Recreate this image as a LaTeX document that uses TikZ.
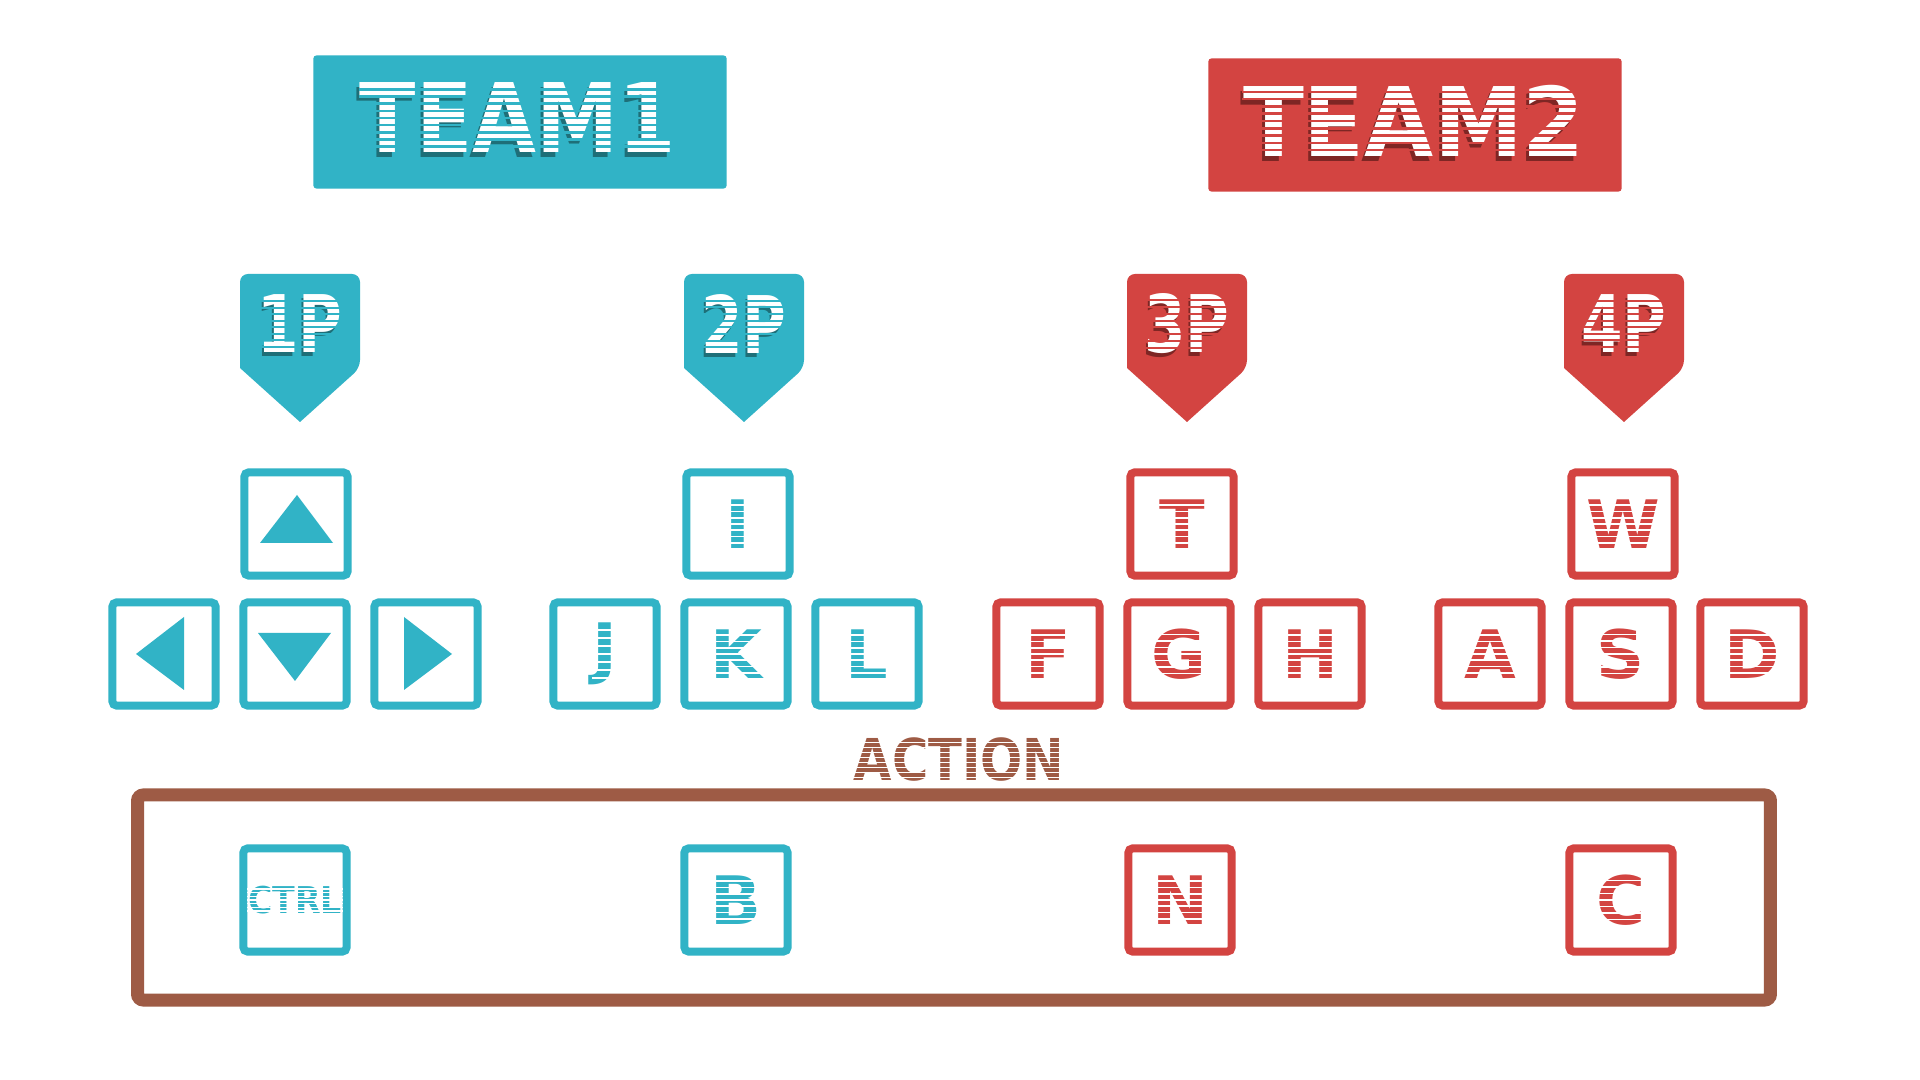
\documentclass[tikz,border=0pt]{standalone}
\usepackage{fontspec}
\usepackage{graphicx}
\setmainfont{DejaVu Sans}
\usetikzlibrary{calc}
\definecolor{blueteam}{HTML}{31B3C6}
\definecolor{blueshade}{HTML}{1E6F78}
\definecolor{redteam}{HTML}{D34441}
\definecolor{redshade}{HTML}{7E2624}
\definecolor{actionc}{HTML}{9E5B45}
\tikzset{
  key/.style={draw=#1,fill=white,line width=0.08cm,rounded corners=0.04cm,
    minimum size=1.03cm,inner sep=0pt},
  keyletter/.style={text=#1,inner sep=0pt,font=\bfseries\fontsize{19}{19}\selectfont},
  badgetext/.style={text=#1,inner sep=0pt,font=\bfseries\fontsize{22.6}{23}\selectfont},
  teamtext/.style={text=#1,inner sep=0pt,font=\bfseries\fontsize{27.3}{28}\selectfont},
  teambox/.style={fill=#1,rounded corners=0.03cm,minimum width=4.13cm,
    minimum height=1.33cm,inner sep=0pt}
}
% bars in the background colour across a text node
\newcommand{\stripes}[4]{%
  \foreach \k in {1,...,#3}
    \draw[#2,line width=#4]
      ($(#1.south west)!{\k/(#3+1)}!(#1.north west)$) --
      ($(#1.south east)!{\k/(#3+1)}!(#1.north east)$);
}
% name, x, y, colour, letter
\newcommand{\keycap}[5]{%
  \node[key=#4] (#1) at (#2,#3) {};
  \node[keyletter=#4] (#1l) at (#1.center) {#5};
  \stripes{#1l}{white}{7}{0.016cm}
}
% name, x, colour, shade, text
\newcommand{\badge}[5]{%
  \fill[#3] (#2,422) -- (#2-60,368) [rounded corners=0.08cm] -- (#2-60,274)
    -- (#2+60,274) -- (#2+60,368) [sharp corners] -- cycle;
  \node[badgetext=#4] (#1s) at (#2-2,328) {\scalebox{0.75}[1]{#5}};
  \node[badgetext=white] (#1) at (#2,324) {\scalebox{0.75}[1]{#5}};
  \stripes{#1}{#3}{8}{0.02cm}
}

\begin{document}
\begin{tikzpicture}[x=0.01cm,y=-0.01cm]
  \fill[white] (0,0) rectangle (1920,1080);
  \useasboundingbox (0,0) rectangle (1920,1080);

  % teams
  \node[teambox=blueteam] (team1) at (520,122) {};
  \node[teamtext=blueshade] (team1s) at (515,123) {\scalebox{0.86}[1]{TEAM1}};
  \node[teamtext=white] (team1t) at (518,118) {\scalebox{0.86}[1]{TEAM1}};
  \stripes{team1t}{blueteam}{9}{0.025cm}
  \node[teambox=redteam] (team2) at (1415,125) {};
  \node[teamtext=redshade] (team2s) at (1411,126) {\scalebox{0.93}[1]{TEAM2}};
  \node[teamtext=white] (team2t) at (1414,121) {\scalebox{0.93}[1]{TEAM2}};
  \stripes{team2t}{redteam}{9}{0.025cm}

  % players
  \badge{p1}{300}{blueteam}{blueshade}{1P}
  \badge{p2}{744}{blueteam}{blueshade}{2P}
  \badge{p3}{1187}{redteam}{redshade}{3P}
  \badge{p4}{1624}{redteam}{redshade}{4P}

  % 1P arrows
  \node[key=blueteam] (kup) at (296,524) {};
  \node[key=blueteam] (kleft) at (164,654) {};
  \node[key=blueteam] (kdown) at (295,654) {};
  \node[key=blueteam] (kright) at (426,654) {};
  \fill[blueteam] (kup.center) ++(-36,19) -- ++(73,0) -- ++(-36,-48) -- cycle;
  \fill[blueteam] (kdown.center) ++(-37,-21) -- ++(73,0) -- ++(-36,48) -- cycle;
  \fill[blueteam] (kleft.center) ++(20,-37) -- ++(0,73) -- ++(-48,-36) -- cycle;
  \fill[blueteam] (kright.center) ++(-22,-37) -- ++(0,73) -- ++(48,-36) -- cycle;

  % 2P, 3P, 4P
  \keycap{kI}{738}{524}{blueteam}{I}
  \keycap{kJ}{605}{654}{blueteam}{J}
  \keycap{kK}{736}{654}{blueteam}{K}
  \keycap{kL}{867}{654}{blueteam}{L}
  \keycap{kT}{1182}{524}{redteam}{T}
  \keycap{kF}{1048}{654}{redteam}{F}
  \keycap{kG}{1179}{654}{redteam}{G}
  \keycap{kH}{1310}{654}{redteam}{H}
  \keycap{kW}{1623}{524}{redteam}{W}
  \keycap{kA}{1490}{654}{redteam}{A}
  \keycap{kS}{1621}{654}{redteam}{S}
  \keycap{kD}{1752}{654}{redteam}{D}

  % action
  \node[text=actionc,inner sep=0pt,font=\bfseries\fontsize{16.4}{17}\selectfont]
    (actiontitle) at (959,760) {\scalebox{0.86}[1]{ACTION}};
  \stripes{actiontitle}{white}{8}{0.012cm}
  \node[draw=actionc,line width=0.13cm,rounded corners=0.06cm,inner sep=0pt,
    minimum width=16.32cm,minimum height=2.05cm] (actionframe) at (954,897.5) {};
  \keycap{kctrl}{295}{900}{blueteam}{\fontsize{10.5}{10.5}\selectfont\scalebox{0.9}[1]{CTRL}}
  \keycap{kB}{736}{900}{blueteam}{B}
  \keycap{kN}{1180}{900}{redteam}{N}
  \keycap{kC}{1621}{900}{redteam}{C}
\end{tikzpicture}
\end{document}
